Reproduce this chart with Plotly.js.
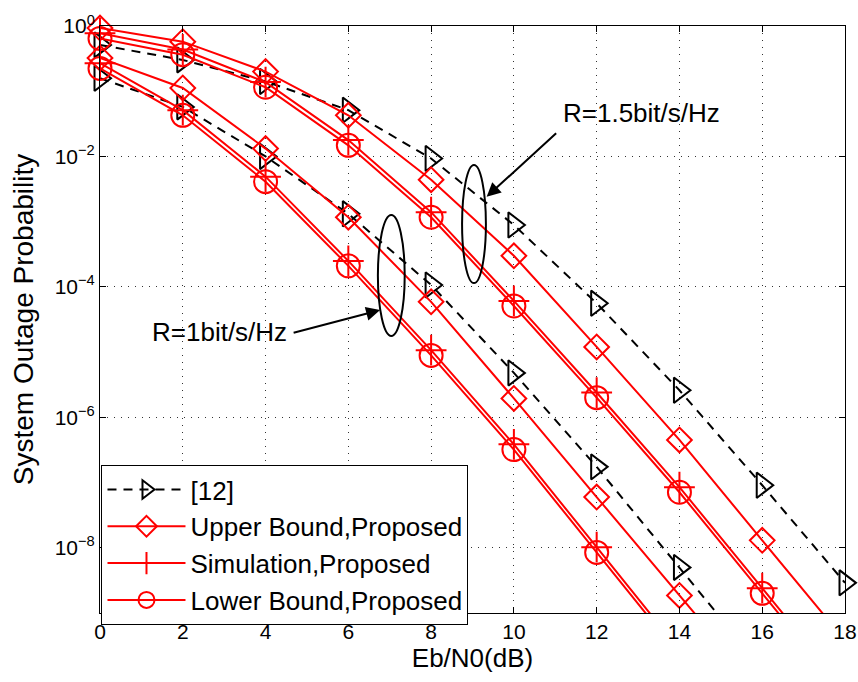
<!DOCTYPE html>
<html><head><meta charset="utf-8">
<script src="https://cdn.plot.ly/plotly-3.0.1.min.js"></script>
<style>html,body{margin:0;padding:0;background:#fff}#chart{width:858px;height:682px}</style>
</head><body><div id="chart"></div>
<script>
// Eb/N0 (dB)
const ebn0 = [0, 2, 4, 6, 8, 10, 12, 14, 16, 18];

// R = 1.5 bit/s/Hz
const ref12_R15 = [0.513, 0.302, 0.141, 0.0513, 9.3e-3, 8.9e-4, 5.6e-5, 2.6e-6, 9.1e-8, 2.9e-9];
const upper_R15 = [0.93, 0.575, 0.20, 0.0427, 4.4e-3, 3.0e-4, 1.2e-5, 4.5e-7, 1.3e-8, 3.8e-10];
const sim_R15   = [0.775, 0.436, 0.138, 0.0178, 1.40e-3, 6.1e-5, 2.4e-6, 8.5e-8, 2.4e-9, 6.7e-11];
const lower_R15 = [0.646, 0.363, 0.115, 0.0148, 1.17e-3, 5.1e-5, 2.0e-6, 7.1e-8, 2.0e-9, 5.6e-11];

// R = 1 bit/s/Hz
const ref12_R1 = [0.158, 0.0575, 0.0100, 1.32e-3, 1.07e-4, 4.8e-6, 1.74e-7, 5.0e-9, 1.4e-10, 4.0e-12];
const upper_R1 = [0.324, 0.112, 0.0132, 1.17e-3, 5.9e-5, 1.95e-6, 6.0e-8, 1.86e-9, 5.8e-11, 1.8e-12];
const sim_R1   = [0.269, 0.0512, 4.9e-3, 2.5e-4, 1.07e-5, 3.85e-7, 1.02e-8, 2.76e-10, 7.6e-12, 1.9e-13];
const lower_R1 = [0.224, 0.0427, 4.1e-3, 2.1e-4, 8.9e-6, 3.2e-7, 8.5e-9, 2.3e-10, 6.3e-12, 1.6e-13];

const seriesNames = ['[12]', 'Upper Bound,Proposed', 'Simulation,Proposed', 'Lower Bound,Proposed'];
const yTickVals = [1, 1e-2, 1e-4, 1e-6, 1e-8];
const yTickText = ['10<sup>0</sup>', '10<sup>−2</sup>', '10<sup>−4</sup>', '10<sup>−6</sup>', '10<sup>−8</sup>'];
const xTickVals = [0, 2, 4, 6, 8, 10, 12, 14, 16, 18];

const YMIN = 1e-9;
function sizes(ys, s) { return ys.map(v => v >= YMIN * 0.7 ? s : 0); }

const styles = [
  {color: '#000000', dash: '9px,7px', symbol: 'triangle-right-open', size: 22},
  {color: '#ff0000', dash: 'solid', symbol: 'diamond-open', size: 19},
  {color: '#ff0000', dash: 'solid', symbol: 'cross-thin-open', size: 22},
  {color: '#ff0000', dash: 'solid', symbol: 'circle-open', size: 23}
];
const groups = [[ref12_R15, ref12_R1], [upper_R15, upper_R1], [sim_R15, sim_R1], [lower_R15, lower_R1]];

const traces = [];
groups.forEach((pair, gi) => {
  pair.forEach((ys, k) => {
    const st = styles[gi];
    traces.push({
      x: ebn0, y: ys, type: 'scatter', mode: 'lines+markers',
      name: seriesNames[gi], legendgroup: 'g' + gi, showlegend: k === 0,
      cliponaxis: false,
      line: {color: st.color, width: 2, dash: st.dash},
      marker: {symbol: st.symbol, size: sizes(ys, st.size), color: st.color, opacity: 1,
               line: {color: st.color, width: 2}}
    });
  });
});

const font = 'Arial, "Liberation Sans", sans-serif';
const layout = {
  width: 858, height: 682,
  margin: {l: 100, r: 13, t: 26, b: 69},
  paper_bgcolor: '#fff', plot_bgcolor: '#fff',
  font: {family: font, size: 21, color: '#000'},
  showlegend: true,
  legend: {
    x: 0.002, y: 0.252, xanchor: 'left', yanchor: 'top',
    bgcolor: '#fff', bordercolor: '#000', borderwidth: 1,
    font: {family: font, size: 26, color: '#000'},
    traceorder: 'normal', itemwidth: 78
  },
  xaxis: {
    range: [0, 18], tickvals: xTickVals, ticks: 'inside', ticklen: 6, tickcolor: '#000',
    showline: true, linecolor: '#000', linewidth: 1, mirror: 'ticks',
    showgrid: true, gridcolor: '#333', griddash: '1px,6px', gridwidth: 1, zeroline: false,
    tickfont: {family: font, size: 21},
    title: {text: 'Eb/N0(dB)', font: {family: font, size: 26}, standoff: 4}
  },
  yaxis: {
    type: 'log', range: [-9, 0], tickvals: yTickVals, ticktext: yTickText,
    ticks: 'inside', ticklen: 6, tickcolor: '#000',
    showline: true, linecolor: '#000', linewidth: 1, mirror: 'ticks',
    showgrid: true, gridcolor: '#333', griddash: '1px,6px', gridwidth: 1, zeroline: false,
    tickfont: {family: font, size: 21},
    title: {text: 'System Outage Probability', font: {family: font, size: 28}, standoff: 12}
  },
  shapes: [
    {type: 'circle', xref: 'paper', yref: 'paper', x0: 0.486, x1: 0.518, y0: 0.562, y1: 0.763,
     line: {color: '#000', width: 2}},
    {type: 'circle', xref: 'paper', yref: 'paper', x0: 0.373, x1: 0.409, y0: 0.472, y1: 0.678,
     line: {color: '#000', width: 2}}
  ],
  annotations: [
    {xref: 'paper', yref: 'paper', x: 0.7275, y: 0.852, xanchor: 'center', yanchor: 'middle',
     text: 'R=1.5bit/s/Hz', showarrow: false, font: {family: font, size: 26, color: '#000'}},
    {xref: 'paper', yref: 'paper', x: 0.16, y: 0.479, xanchor: 'center', yanchor: 'middle',
     text: 'R=1bit/s/Hz', showarrow: false, font: {family: font, size: 26, color: '#000'}},
    {xref: 'paper', yref: 'paper', x: 0.519, y: 0.709, text: '', showarrow: true,
     ax: 71, ay: -65, axref: 'pixel', ayref: 'pixel', arrowhead: 2, arrowsize: 1.4, arrowwidth: 2, arrowcolor: '#000', standoff: 0},
    {xref: 'paper', yref: 'paper', x: 0.376, y: 0.516, text: '', showarrow: true,
     ax: -88, ay: 23, axref: 'pixel', ayref: 'pixel', arrowhead: 2, arrowsize: 1.4, arrowwidth: 2, arrowcolor: '#000', standoff: 0}
  ]
};

Plotly.newPlot('chart', traces, layout, {displayModeBar: false, staticPlot: true});
</script>
</body></html>
